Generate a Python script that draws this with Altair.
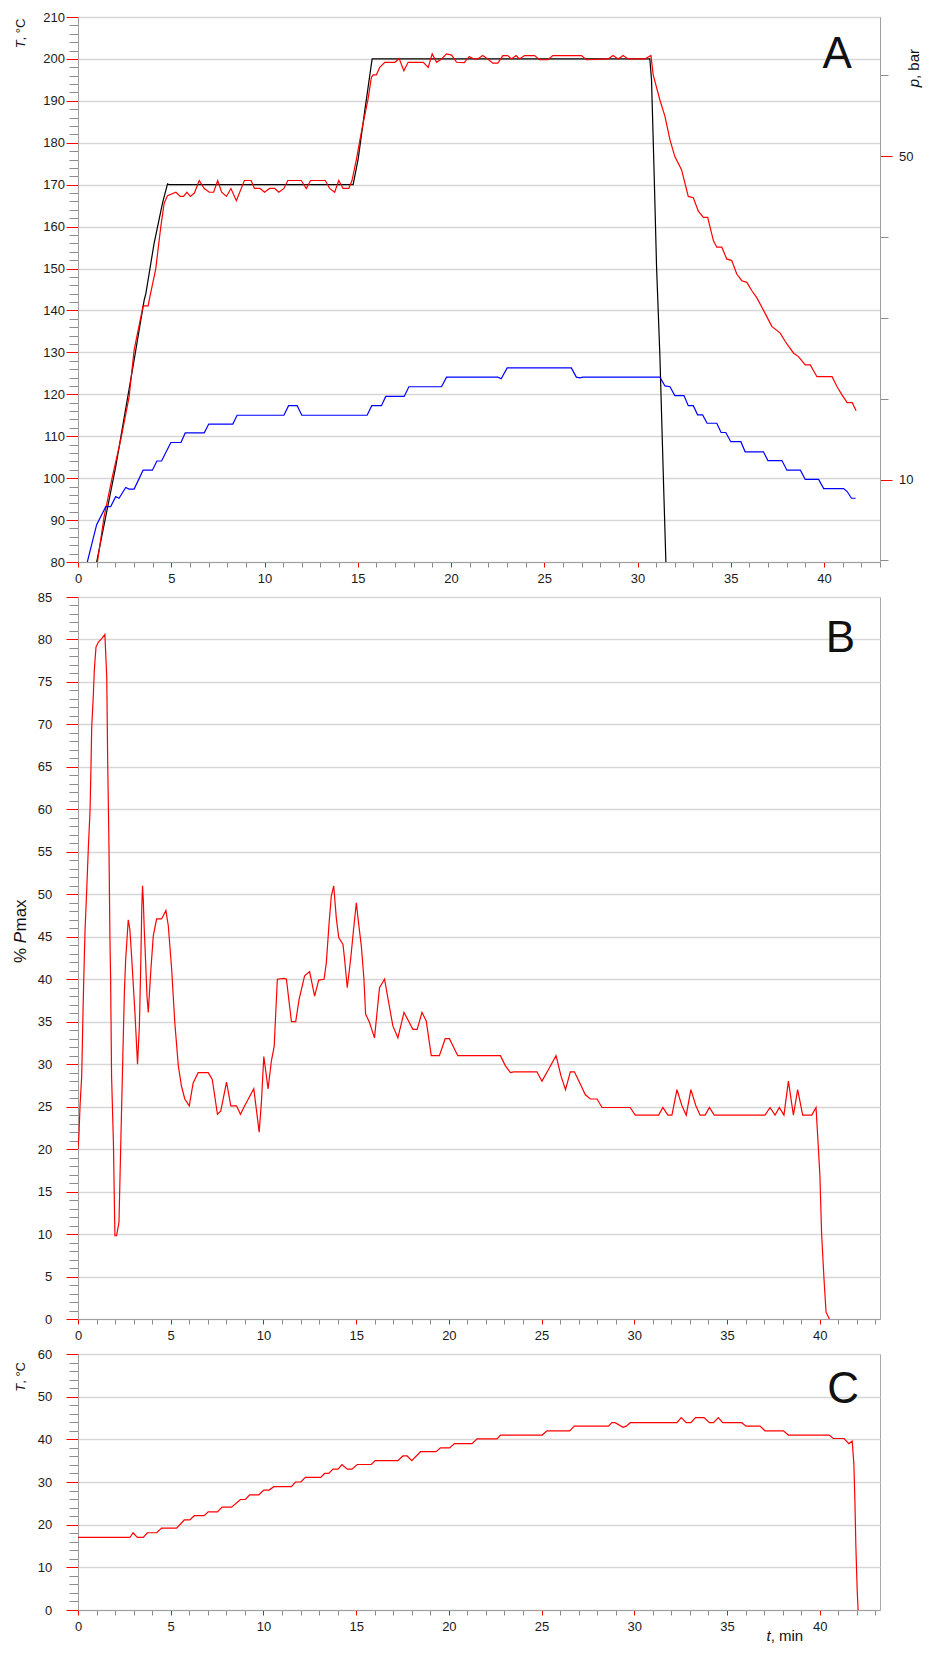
import altair as alt
import pandas as pd

FONT = "Liberation Sans"
RED = "#ff0000"

# ---------------- Panel A : temperatures (left axis) and pressure (right axis)
a_black_t = [1.0, 2.02, 3.01, 3.55, 3.64, 4.08, 4.53, 4.80, 4.89, 14.75, 15.02, 15.38, 15.77,
             30.66, 30.75, 30.89, 31.02, 31.20, 31.41, 31.52]
a_black_T = [80, 102.7, 128.2, 142.5, 144.1, 156, 165.6, 170.2, 170, 170, 176.1, 187.8, 200,
             200, 195, 172.7, 150.4, 129, 96.4, 80]

a_red_t = [1.04, 1.40, 1.84, 2.29, 2.74, 3.01, 3.49, 3.76, 3.82, 4.17, 4.44, 4.62, 4.80, 5.25, 5.48,
           5.66, 5.84, 6.02, 6.24, 6.50, 6.77, 7.04, 7.27, 7.49, 7.70, 7.96, 8.20, 8.49, 8.92, 9.28,
           9.46, 9.76, 10.0, 10.27, 10.54, 10.77, 11.04, 11.25, 11.97, 12.24, 12.47, 13.26, 13.49,
           13.76, 13.98, 14.21, 14.52, 14.69, 14.93, 15.19, 15.55, 15.73, 15.82, 16.0, 16.18, 16.45,
           16.99, 17.22, 17.47, 17.70, 18.51, 18.78, 18.99, 19.23, 19.49, 19.76, 20.03, 20.30, 20.71,
           20.98, 21.22, 21.43, 21.70, 21.97, 22.24, 22.51, 22.78, 23.04, 23.23, 23.49, 23.67, 23.94,
           24.48, 24.75, 25.19, 25.46, 26.99, 27.26, 28.42, 28.69, 28.96, 29.23, 29.49, 30.39, 30.72,
           30.84, 31.20, 31.47, 31.74, 32.0, 32.36, 32.72, 32.99, 33.26, 33.53, 33.76, 34.07, 34.25,
           34.52, 34.78, 35.05, 35.32, 35.59, 35.86, 36.13, 36.40, 36.84, 37.20, 37.65, 37.92, 38.37,
           38.63, 38.99, 39.26, 39.62, 40.43, 40.70, 40.97, 41.24, 41.51, 41.72]
a_red_T = [80, 90.8, 100.3, 109.1, 119.4, 130.6, 141.1, 141.1, 142.5, 150, 160, 165.6, 167.4, 168.2,
           167.2, 167.2, 168.2, 167.2, 168, 171, 169.1, 168.2, 168.2, 171, 168.2, 167.2, 169.1, 166.2,
           171, 171, 169.1, 169.1, 168.2, 169.1, 169.1, 168.2, 169.1, 171, 171, 169.1, 171, 171, 169.1,
           168.2, 171, 169.1, 169.1, 171, 176.1, 182.5, 190.4, 195.6, 196.2, 196.2, 198, 199.2, 199.2,
           200.1, 197.2, 199.2, 199.2, 198, 201.2, 199.2, 200, 201.2, 200.9, 199.2, 199.1, 200.6, 200,
           200, 200.8, 200, 199, 199, 200.8, 200.8, 200, 200.8, 200, 200.8, 200.8, 199.8, 199.8, 200.8,
           200.8, 199.8, 200, 200.8, 200, 200.8, 200, 200, 200.8, 196.2, 190.2, 186.3, 180.7, 176.7,
           173.6, 167.2, 166.9, 163.7, 162.2, 162.2, 156.6, 155.1, 155.1, 152.3, 151.9, 148.7, 147.1,
           146.7, 144.7, 143.0, 139.3, 136.2, 134.6, 132.6, 129.8, 129.0, 127.0, 127.0, 124.2, 124.2,
           121.8, 119.8, 118.0, 118.0, 116.1]

a_blue_t = [0.5, 1.0, 1.49, 1.75, 2.02, 2.20, 2.56, 2.74, 3.01, 3.49, 3.99, 4.23, 4.48, 4.98, 5.52,
            5.75, 6.77, 7.01, 8.30, 8.53, 11.04, 11.29, 11.75, 12.0, 15.5, 15.75, 16.27, 16.5, 17.49,
            17.74, 19.49, 19.76, 22.51, 22.69, 23.01, 26.45, 26.72, 26.9, 27.07, 31.2, 31.47, 31.74,
            32.0, 32.49, 32.72, 32.99, 33.22, 33.49, 33.73, 34.25, 34.48, 34.73, 35.0, 35.54, 35.77,
            36.75, 36.99, 37.74, 38.01, 38.73, 38.99, 39.71, 39.98, 41.05, 41.24, 41.47, 41.69]
a_blue_p = [-0.2, 4.41, 6.64, 6.64, 7.88, 7.68, 9.02, 8.82, 8.82, 11.15, 11.15, 12.29, 12.29, 14.58,
            14.58, 15.77, 15.77, 16.86, 16.86, 17.95, 17.95, 19.14, 19.14, 17.95, 17.95, 19.14, 19.14,
            20.28, 20.28, 21.48, 21.48, 22.67, 22.67, 22.46, 23.81, 23.81, 22.67, 22.57, 22.67, 22.67,
            21.58, 21.48, 20.39, 20.39, 19.14, 19.14, 18.0, 18.0, 16.96, 16.96, 15.82, 15.82, 14.68,
            14.68, 13.43, 13.43, 12.34, 12.34, 11.15, 11.15, 10.01, 10.01, 8.87, 8.87, 8.51, 7.68, 7.68]

# ---------------- Panel B : % of maximum power
b_t = [0.0, 0.05, 0.11, 0.2, 0.27, 0.32, 0.38, 0.47, 0.56, 0.65, 0.70, 0.74, 0.83, 0.88, 0.97, 1.10,
       1.28, 1.45, 1.55, 1.60, 1.67, 1.72, 1.76, 1.81, 1.91, 1.99, 2.08, 2.21, 2.32, 2.41, 2.50, 2.57,
       2.71, 2.80, 2.89, 2.95, 3.07, 3.21, 3.31, 3.39, 3.44, 3.48, 3.52, 3.57, 3.65, 3.72, 3.79, 3.92,
       4.06, 4.24, 4.51, 4.74, 4.87, 5.05, 5.22, 5.41, 5.58, 5.76, 6.0, 6.21, 6.48, 7.02, 7.24, 7.52,
       7.70, 8.01, 8.24, 8.55, 8.76, 8.99, 9.48, 9.77, 9.89, 10.02, 10.25, 10.43, 10.58, 10.75, 11.11,
       11.24, 11.51, 11.74, 11.92, 12.22, 12.49, 12.76, 12.98, 13.27, 13.39, 13.54, 13.66, 13.79, 13.93,
       14.06, 14.29, 14.38, 14.52, 14.70, 14.88, 15.01, 15.13, 15.28, 15.42, 15.51, 15.72, 15.99, 16.26,
       16.53, 16.98, 17.25, 17.58, 18.06, 18.29, 18.55, 18.78, 19.05, 19.49, 19.80, 20.03, 20.48, 20.99,
       22.78, 23.05, 23.32, 23.50, 24.75, 25.02, 25.38, 25.78, 26.05, 26.29, 26.55, 26.77, 27.10, 27.36,
       27.63, 27.99, 28.26, 29.78, 30.05, 31.31, 31.54, 31.81, 32.03, 32.30, 32.57, 32.80, 33.05, 33.32,
       33.55, 33.82, 34.05, 34.31, 37.05, 37.32, 37.59, 37.82, 38.07, 38.31, 38.58, 38.81, 39.08, 39.57,
       39.80, 39.92, 40.01, 40.10, 40.23, 40.34, 40.52]
b_pct = [20.0, 21.6, 25.1, 28.6, 36.2, 40.8, 45.8, 50.5, 55.6, 59.9, 65.0, 69.7, 73.6, 76.4, 79.1, 79.7,
         80.1, 80.6, 75.6, 65.8, 55.6, 45.1, 40.0, 28.6, 20.8, 9.8, 9.8, 11.4, 21.9, 30.2, 38.4, 42.3,
         47.0, 45.8, 42.7, 40.5, 36.1, 30.0, 34.5, 42.3, 48.5, 51.0, 49.4, 46.0, 41.9, 38.0, 36.1, 40.8,
         45.1, 47.1, 47.1, 48.1, 46.3, 41.2, 34.9, 29.8, 27.4, 25.9, 25.1, 27.8, 29.0, 29.0, 28.2, 24.1,
         24.5, 27.9, 25.1, 25.1, 24.1, 25.1, 27.1, 22.0, 25.5, 30.9, 27.1, 30.4, 32.1, 40.0, 40.1,
         40.0, 35.0, 35.0, 37.6, 40.4, 40.9, 38.0, 39.9, 40.0, 41.9, 46.6, 49.8, 51.0, 47.2,
         44.9, 44.1, 42.3, 39.0, 42.3, 46.3, 49.0, 46.6, 43.9, 40.0, 35.9, 34.9, 33.1, 39.0,
         40.0, 34.5, 33.1, 36.1, 34.1, 34.1, 36.1, 35.1, 31.0, 31.0, 33.0, 33.0, 31.0, 31.0,
         31.0, 29.8, 29.0, 29.1, 29.1, 28.0, 29.4, 31.0, 28.6, 27.0, 29.1, 29.1, 27.6, 26.4,
         25.9, 25.9, 24.9, 24.9, 24.0, 24.0, 24.9, 24.0, 24.0, 27.0, 25.1, 24.0, 27.0, 25.1,
         24.0, 24.0, 24.9, 24.0, 24.0, 24.9, 24.0, 24.9, 24.0, 28.0, 24.0, 27.0, 24.0, 24.0,
         24.9, 20.4, 16.8, 10.1, 4.7, 0.8, 0.0]

# ---------------- Panel C : temperature
c_t = [0.0, 2.80, 2.97, 3.20, 3.52, 3.74, 4.24, 4.51, 5.32, 5.73, 6.03, 6.27, 6.80, 7.02, 7.52, 7.77,
       8.28, 8.76, 9.03, 9.26, 9.75, 10.02, 10.31, 10.56, 11.51, 11.73, 12.02, 12.26, 13.09, 13.30,
       13.52, 13.75, 14.02, 14.24, 14.52, 14.77, 15.06, 15.81, 16.03, 17.25, 17.52, 17.75, 18.0, 18.47,
       19.31, 19.55, 20.04, 20.30, 21.25, 21.52, 22.60, 22.78, 25.03, 25.29, 26.52, 26.76, 28.61, 28.79,
       28.97, 29.39, 29.57, 29.78, 32.30, 32.53, 32.80, 33.05, 33.30, 33.76, 34.05, 34.27, 34.53, 34.77,
       35.79, 36.03, 36.78, 37.05, 38.04, 38.31, 40.51, 40.73, 41.31, 41.57, 41.75, 41.84, 41.90, 41.95,
       42.02, 42.07]
c_T = [17.0, 17.0, 18.1, 17.0, 17.0, 18.1, 18.1, 19.2, 19.2, 21.1, 21.1, 22.1, 22.1, 23.0, 23.0, 24.1,
       24.1, 25.9, 25.9, 27.0, 27.0, 28.1, 28.1, 28.9, 28.9, 30.0, 30.0, 31.1, 31.1, 32.0, 32.0, 33.0,
       33.0, 34.1, 33.0, 33.0, 34.1, 34.1, 35.0, 35.0, 36.1, 36.1, 35.0, 37.1, 37.1, 38.0, 38.0, 39.0,
       39.0, 40.1, 40.1, 41.0, 41.0, 42.0, 42.0, 43.1, 43.1, 43.9, 43.9, 42.8, 43.1, 43.9, 43.9, 45.1,
       43.9, 43.9, 45.1, 45.1, 43.9, 43.9, 45.1, 43.9, 43.9, 43.1, 43.1, 42.0, 42.0, 41.0, 41.0, 40.2,
       40.2, 39.0, 39.6, 34.3, 24.9, 14.7, 4.6, 0.0]

# tick values
x_ticks = list(range(0, 44))
a_y_ticks = list(range(80, 211, 2))
a_p_ticks = [0, 10, 20, 30, 40, 50, 60]
b_y_ticks = list(range(0, 86))
c_y_ticks = list(range(0, 61, 2))

W = 802
GRAY_TICK = "#8c8c8c"
one = pd.DataFrame({"k": [0]})


def cond(test, a, b):
    return {"condition": {"test": test, "value": a}, "value": b}


def x_axis():
    return alt.Axis(values=x_ticks, title=None, grid=False,
                    labelExpr="datum.value % 5 === 0 ? datum.label : ''",
                    tickColor=cond("datum.value % 5 === 0", RED, GRAY_TICK),
                    tickSize=5, labelPadding=5, labelOverlap=False, labelFlush=False)


def y_axis(values, major, pad):
    t = f"datum.value % {major} === 0"
    return alt.Axis(values=values, title=None,
                    labelExpr=f"{t} ? datum.label : ''",
                    tickColor=cond(t, RED, GRAY_TICK),
                    tickSize=cond(t, 12, 9),
                    gridOpacity=cond(t, 1, 0),
                    labelPadding=pad, labelOverlap=False, labelFlush=False)


def text(s, x, y, size, angle=None, align="center", baseline="alphabetic", style="normal"):
    kw = dict(text=s, font=FONT, fontSize=size, align=align, baseline=baseline,
              fontStyle=style, color="#111111")
    if angle is not None:
        kw["angle"] = angle
    return alt.Chart(one).mark_text(**kw).encode(x=alt.value(x), y=alt.value(y))


def line(t, v, color, xdom, ydom, xax, yax):
    df = pd.DataFrame({"t": t, "v": v})
    return alt.Chart(df).mark_line(color=color, strokeWidth=1.2, clip=True).encode(
        x=alt.X("t:Q", scale=alt.Scale(domain=xdom, nice=False, zero=False), axis=xax),
        y=alt.Y("v:Q", scale=alt.Scale(domain=ydom, nice=False, zero=False), axis=yax),
    )


# ----- Panel A
ax_a = x_axis()
ay_a = y_axis(a_y_ticks, 10, 1.5)
ap_test = "datum.value === 10 || datum.value === 50"
ap_axis = alt.Axis(values=a_p_ticks, title=None, orient="right", grid=False,
                   labelExpr=f"{ap_test} ? datum.label : ''",
                   tickColor=cond(ap_test, RED, GRAY_TICK),
                   tickSize=cond(ap_test, 12, 8),
                   labelPadding=6.5, labelOverlap=False, labelFlush=False)

a_left = alt.layer(
    line(a_black_t, a_black_T, "#000000", [0, 43], [80, 210], ax_a, ay_a),
    line(a_red_t, a_red_T, RED, [0, 43], [80, 210], ax_a, ay_a),
)
a_right = line(a_blue_t, a_blue_p, "#0000ff", [0, 43], [-0.21, 67.24], ax_a, ap_axis)
a_texts = alt.layer(
    text("T", -53, 23.4, 13, angle=270, align="right", style="italic"),
    text(", °C", -53, 23.4, 13, angle=270, align="left"),
    text("p", 841, 62, 15, angle=270, align="right", style="italic"),
    text(", bar", 841, 62, 15, angle=270, align="left"),
    text("A", 759.2, 51.3, 44),
)
panel_a = alt.layer(a_left, a_right, a_texts).resolve_scale(y="independent").properties(
    width=W, height=545)

# ----- Panel B
ax_b = x_axis()
ay_b = y_axis(b_y_ticks, 5, 14.2)
panel_b = alt.layer(
    line(b_t, b_pct, RED, [0, 43.25], [0, 85], ax_b, ay_b),
    text("%", -52.5, 366, 17, angle=270, align="left"),
    text("P", -52.5, 346.2, 17, angle=270, align="left", style="italic"),
    text("max", -52.5, 334.5, 17, angle=270, align="left"),
    text("B", 762.3, 55, 44),
).properties(width=W, height=722)

# ----- Panel C
ax_c = x_axis()
ay_c = y_axis(c_y_ticks, 10, 14.2)
panel_c = alt.layer(
    line(c_t, c_T, RED, [0, 43.25], [0, 60], ax_c, ay_c),
    text("T", -53, 29.8, 13, angle=270, align="right", style="italic"),
    text(", °C", -53, 29.8, 13, angle=270, align="left"),
    text("C", 765.2, 49.3, 44),
    text("t", 692.7, 282, 15, align="right", baseline="middle", style="italic"),
    text(", min", 692.7, 282, 15, align="left", baseline="middle"),
).properties(width=W, height=256)

chart = alt.vconcat(panel_a, panel_b, panel_c, spacing=35, bounds="flush").properties(
    padding={"left": 3, "top": 2, "right": 0, "bottom": 0},
    background="white",
).configure_view(stroke="#a8a8a8", strokeWidth=1).configure_axis(
    labelFont=FONT, labelFontSize=13, labelColor="#1a1a1a",
    domainColor="#a0a0a0", domainWidth=1, gridColor="#d6d6d6", gridWidth=1.5, tickWidth=1,
)

chart.save("out.html", embed_options={"renderer": "svg", "actions": False})
